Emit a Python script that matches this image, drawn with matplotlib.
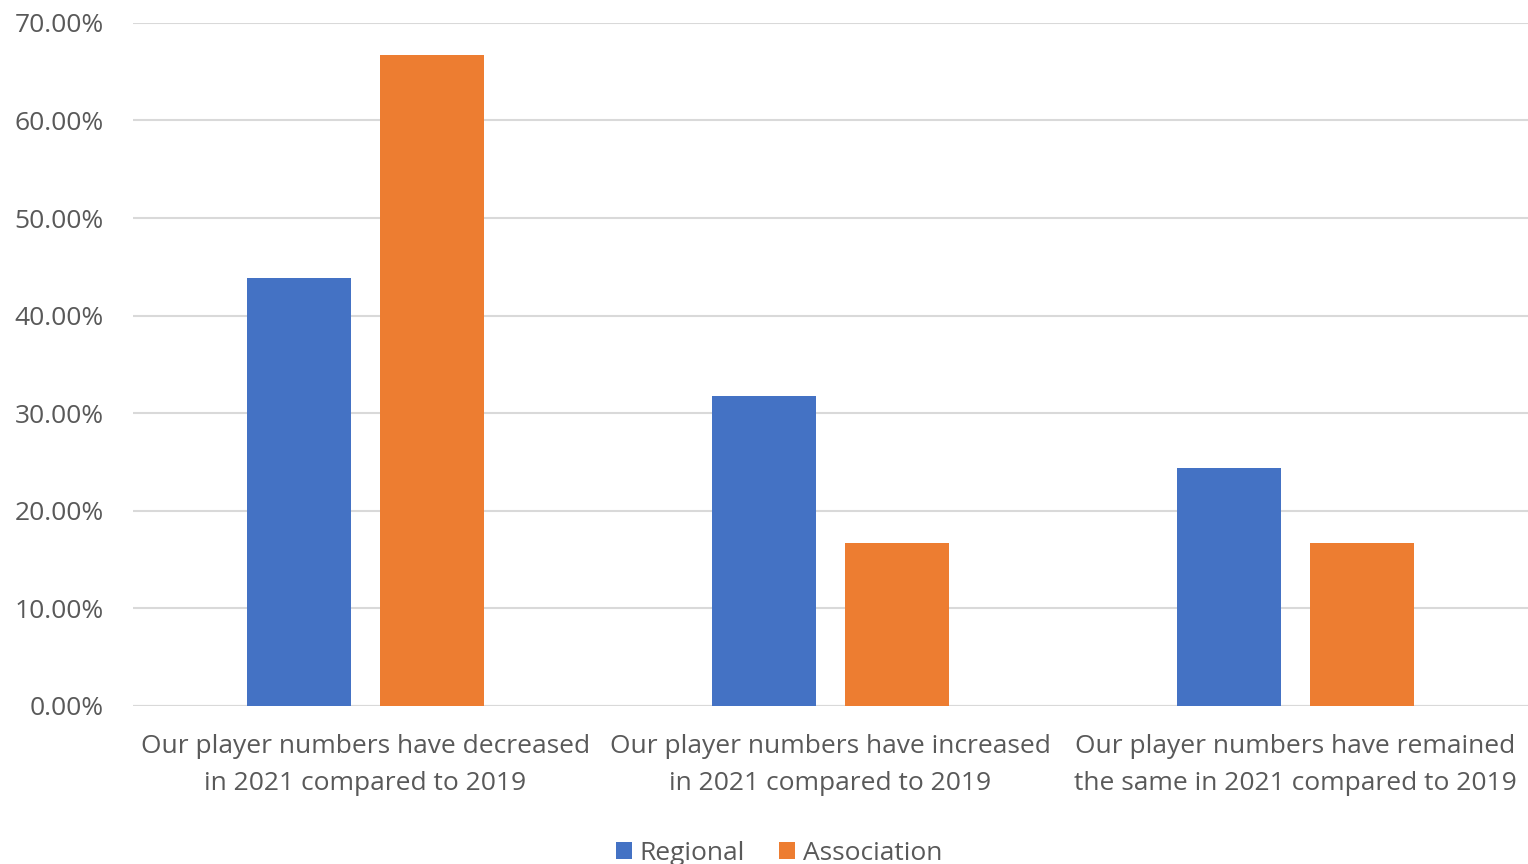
import numpy as np
import matplotlib.pyplot as plt
from matplotlib.ticker import PercentFormatter

# Data
categories = [
    "Our player numbers have decreased\nin 2021 compared to 2019",
    "Our player numbers have increased\nin 2021 compared to 2019",
    "Our player numbers have remained\nthe same in 2021 compared to 2019",
]
regional = [43.90, 31.71, 24.39]
association = [66.67, 16.67, 16.67]

series_names = ["Regional", "Association"]
colors = ["#4472C4", "#ED7D31"]
text_color = "#595959"

plt.rcParams["font.family"] = ["Open Sans", "DejaVu Sans"]

fig = plt.figure(figsize=(15.28, 8.64), dpi=100)
ax = fig.add_axes([0.087, 0.183, 0.913, 0.7905])

x = np.arange(len(categories))
width = 0.224
offset = 0.143

ax.bar(x - offset, regional, width, color=colors[0], label=series_names[0], zorder=3)
ax.bar(x + offset, association, width, color=colors[1], label=series_names[1], zorder=3)

ax.set_xlim(-0.5, 2.5)
ax.set_ylim(0, 70)
ax.set_yticks(np.arange(0, 71, 10))
ax.yaxis.set_major_formatter(PercentFormatter(decimals=2))

ax.grid(axis="y", color="#D9D9D9", linewidth=1.5, zorder=0)
for s in ax.spines.values():
    s.set_visible(False)
ax.axhline(0, color="#D9D9D9", linewidth=1.5, zorder=2)

ax.set_xticks(x)
ax.set_xticklabels(categories, fontsize=19, color=text_color, linespacing=1.65)
ax.tick_params(axis="x", length=0, pad=20)
ax.tick_params(axis="y", length=0, pad=21, labelsize=19, labelcolor=text_color)

leg = fig.legend(loc="lower center", bbox_to_anchor=(0.51, -0.03), ncol=2,
                 frameon=False, fontsize=19, handlelength=0.6, handleheight=0.6,
                 handletextpad=0.3, columnspacing=1.3)
for t in leg.get_texts():
    t.set_color(text_color)

plt.savefig("out.png", dpi=100)
